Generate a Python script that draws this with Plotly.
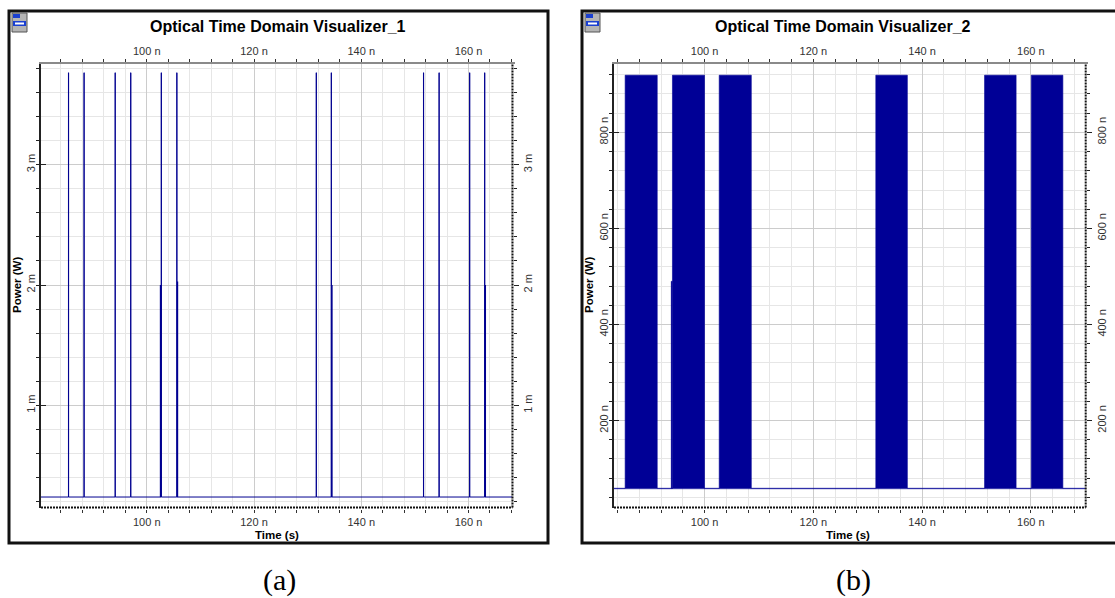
import plotly.graph_objects as go

# ---------------- data ----------------
# Panel (a): Optical Time Domain Visualizer_1  (time in ns, power in mW)
a_time_range = [80.28, 168.2]
a_power_range = [0.151, 3.834]
a_baseline_mW = 0.238
a_pulse_times_ns = [85.4, 88.3, 94.1, 97.0, 102.7, 105.6, 131.6, 134.4, 151.6, 154.5, 160.2, 163.0]
a_pulse_peaks_mW = [3.764, 3.764, 3.764, 3.764, 3.764, 3.764, 3.764, 3.764, 3.764, 3.764, 3.764, 3.764]
a_mid_times_ns = [102.55, 105.75, 134.55, 163.15]
a_mid_levels_mW = [2.00, 2.03, 2.00, 2.00]

# Panel (b): Optical Time Domain Visualizer_2  (time in ns, power in nW)
b_time_range = [83.35, 170.1]
b_power_range = [19.0, 941.7]
b_baseline_nW = 58.5
b_block_starts_ns = [85.4, 94.1, 102.7, 131.5, 151.5, 160.1]
b_block_ends_ns = [91.3, 100.0, 108.6, 137.3, 157.3, 165.9]
b_block_peaks_nW = [919, 919, 919, 919, 919, 919]
b_step_times_ns = [93.85]
b_step_levels_nW = [490]

a_x_ticks = [100, 120, 140, 160]
a_y_ticks = [1, 2, 3]
b_x_ticks = [100, 120, 140, 160]
b_y_ticks = [200, 400, 600, 800]

titles = ["Optical Time Domain Visualizer_1", "Optical Time Domain Visualizer_2"]
x_title = "Time (s)"
y_title = "Power (W)"
panel_labels = ["(a)", "(b)"]

# ---------------- geometry helpers ----------------
W, H = 1115, 598
def px(x):
    return x / W
def py(y):
    return 1 - y / H

NAVY = "#000090"
FONT = "Liberation Sans, Arial, sans-serif"

fig = go.Figure()

# ---- panel (a) traces ----
ax, ay = [a_time_range[0]], [a_baseline_mW]
for t, p in zip(a_pulse_times_ns, a_pulse_peaks_mW):
    ax += [t, t, t + 0.03, t + 0.03]
    ay += [a_baseline_mW, p, p, a_baseline_mW]
ax.append(a_time_range[1]); ay.append(a_baseline_mW)
fig.add_trace(go.Scatter(x=ax, y=ay, mode="lines", line=dict(color=NAVY, width=1),
                         xaxis="x", yaxis="y", showlegend=False, hoverinfo="skip"))
mx, my = [], []
for t, m in zip(a_mid_times_ns, a_mid_levels_mW):
    mx += [t, t, None]
    my += [a_baseline_mW, m, None]
fig.add_trace(go.Scatter(x=mx, y=my, mode="lines", line=dict(color=NAVY, width=1.2),
                         xaxis="x", yaxis="y", showlegend=False, hoverinfo="skip"))
fig.add_trace(go.Scatter(x=a_time_range, y=[a_baseline_mW, a_baseline_mW], mode="lines",
                         line=dict(color="rgba(0,0,0,0)", width=1), xaxis="x3", yaxis="y3",
                         showlegend=False, hoverinfo="skip"))

# ---- panel (b) traces ----
fig.add_trace(go.Scatter(x=b_time_range, y=[b_baseline_nW, b_baseline_nW], mode="lines",
                         line=dict(color="rgba(0,0,150,0.55)", width=1.5), xaxis="x2", yaxis="y2",
                         showlegend=False, hoverinfo="skip"))
bx, by = [b_time_range[0]], [b_baseline_nW]
for s, e, p in zip(b_block_starts_ns, b_block_ends_ns, b_block_peaks_nW):
    bx += [s, s, e, e]
    by += [b_baseline_nW, p, p, b_baseline_nW]
bx.append(b_time_range[1]); by.append(b_baseline_nW)
fig.add_trace(go.Scatter(x=bx, y=by, mode="lines", line=dict(color="rgba(0,0,150,0.6)", width=1),
                         fill="tonexty", fillcolor="#000096", xaxis="x2", yaxis="y2",
                         showlegend=False, hoverinfo="skip"))
sx, sy = [], []
for t, lv, s in zip(b_step_times_ns, b_step_levels_nW, b_block_starts_ns[1:2]):
    sx += [t, t, s, s, t]
    sy += [b_baseline_nW, lv, lv, b_baseline_nW, b_baseline_nW]
fig.add_trace(go.Scatter(x=sx, y=sy, mode="lines", line=dict(color="rgba(0,0,150,0.6)", width=0.5),
                         fill="toself", fillcolor="#000096", xaxis="x2", yaxis="y2",
                         showlegend=False, hoverinfo="skip"))
fig.add_trace(go.Scatter(x=b_time_range, y=[b_baseline_nW, b_baseline_nW], mode="lines",
                         line=dict(color="rgba(0,0,0,0)", width=1), xaxis="x4", yaxis="y4",
                         showlegend=False, hoverinfo="skip"))

# ---------------- axes ----------------
top_px, bot_px = 64.3, 507.5
ydom = [py(bot_px), py(top_px)]
a_dom = [px(41), px(512.5)]
b_dom = [px(614), px(1085.7)]

tickfont = dict(family=FONT, size=11, color="#333333")
GRID_MINOR = "#e6e6e6"
GRID_MAJOR = "#cccccc"

def xaxis_common(rng, ticks, dom, side, anchor, overlay=None, grid=True):
    d = dict(range=rng, domain=dom, side=side, anchor=anchor,
             tickvals=ticks, ticktext=[f"{v} n" for v in ticks],
             tickfont=tickfont, ticks="outside", ticklen=3, tickcolor="#333",
             showline=True, linecolor="#8a8a8a" if side == "top" else "rgba(0,0,0,0)", linewidth=2,
             showgrid=grid, gridcolor=GRID_MAJOR, gridwidth=1, zeroline=False,
             minor=dict(dtick=4, tick0=0, ticks="outside", ticklen=3, tickcolor="#333",
                        showgrid=grid, gridcolor=GRID_MINOR, gridwidth=1),
             fixedrange=True)
    if overlay:
        d["overlaying"] = overlay
    return d

def yaxis_common(rng, ticks, suffix, minor_dt, dom, side, anchor, overlay=None, grid=True):
    tk = "inside" if side == "left" else "outside"
    d = dict(range=rng, domain=dom, side=side, anchor=anchor,
             tickvals=ticks, ticktext=[f"{v} {suffix}" for v in ticks],
             tickfont=tickfont, tickangle=-90, ticks=tk, ticklen=5, tickcolor="#222",
             showline=True, linecolor="#222" if side == "left" else "rgba(0,0,0,0)", linewidth=1.5,
             showgrid=grid, gridcolor=GRID_MAJOR, gridwidth=1, zeroline=False,
             minor=dict(dtick=minor_dt, tick0=0, ticks="outside", ticklen=3, tickcolor="#222",
                        showgrid=grid, gridcolor=GRID_MINOR, gridwidth=1),
             fixedrange=True)
    if overlay:
        d["overlaying"] = overlay
    return d

fig.update_layout(
    xaxis=xaxis_common(a_time_range, a_x_ticks, a_dom, "bottom", "y"),
    yaxis=yaxis_common(a_power_range, a_y_ticks, "m", 0.2, ydom, "left", "x"),
    xaxis3=xaxis_common(a_time_range, a_x_ticks, a_dom, "top", "y3", overlay="x", grid=False),
    yaxis3=yaxis_common(a_power_range, a_y_ticks, "m", 0.2, ydom, "right", "x3", overlay="y", grid=False),
    xaxis2=xaxis_common(b_time_range, b_x_ticks, b_dom, "bottom", "y2"),
    yaxis2=yaxis_common(b_power_range, b_y_ticks, "n", 40, ydom, "left", "x2"),
    xaxis4=xaxis_common(b_time_range, b_x_ticks, b_dom, "top", "y4", overlay="x2", grid=False),
    yaxis4=yaxis_common(b_power_range, b_y_ticks, "n", 40, ydom, "right", "x4", overlay="y2", grid=False),
)

# ---------------- shapes: frames, dotted axis lines, icons ----------------
shapes = []
shapes.append(dict(type="rect", xref="paper", yref="paper", x0=px(9), x1=px(548), y0=py(543), y1=py(11),
                   line=dict(color="#111", width=3), fillcolor="rgba(0,0,0,0)", layer="above"))
shapes.append(dict(type="rect", xref="paper", yref="paper", x0=px(582), x1=px(1125), y0=py(543), y1=py(11),
                   line=dict(color="#111", width=3), fillcolor="rgba(0,0,0,0)", layer="above"))
for l, r in [(41, 512.5), (614, 1085.7)]:
    shapes.append(dict(type="line", xref="paper", yref="paper", x0=px(l), x1=px(r), y0=py(bot_px), y1=py(bot_px),
                       line=dict(color="#111", width=2, dash="2px,1px"), layer="above"))
    shapes.append(dict(type="line", xref="paper", yref="paper", x0=px(r), x1=px(r), y0=py(bot_px), y1=py(top_px),
                       line=dict(color="#111", width=2, dash="2px,1px"), layer="above"))
for ox in (12, 585):
    shapes.append(dict(type="rect", xref="paper", yref="paper", x0=px(ox), x1=px(ox + 15), y0=py(32), y1=py(13),
                       line=dict(color="#555", width=1), fillcolor="#b4b4b4", layer="above"))
    shapes.append(dict(type="rect", xref="paper", yref="paper", x0=px(ox + 1), x1=px(ox + 8), y0=py(18), y1=py(14),
                       line=dict(width=0), fillcolor="#1a3fd0", layer="above"))
    shapes.append(dict(type="rect", xref="paper", yref="paper", x0=px(ox + 1), x1=px(ox + 14), y0=py(26), y1=py(21),
                       line=dict(width=0), fillcolor="#1a3fd0", layer="above"))
    shapes.append(dict(type="rect", xref="paper", yref="paper", x0=px(ox + 3), x1=px(ox + 12), y0=py(24.5), y1=py(22.5),
                       line=dict(width=0), fillcolor="#ffffff", layer="above"))

# ---------------- annotations ----------------
ann = []
for cx, t in zip((278, 843), titles):
    ann.append(dict(text=f"<b>{t}</b>", x=px(cx), y=py(27), xref="paper", yref="paper",
                    showarrow=False, font=dict(family=FONT, size=16, color="#000"),
                    xanchor="center", yanchor="middle"))
for cx in (277, 848):
    ann.append(dict(text=f"<b>{x_title}</b>", x=px(cx), y=py(535), xref="paper", yref="paper",
                    showarrow=False, font=dict(family=FONT, size=11.5, color="#000"),
                    xanchor="center", yanchor="middle"))
for cx in (17, 589):
    ann.append(dict(text=f"<b>{y_title}</b>", x=px(cx), y=py(285), xref="paper", yref="paper",
                    showarrow=False, textangle=-90, font=dict(family=FONT, size=11.5, color="#000"),
                    xanchor="center", yanchor="middle"))
for cx, t in zip((279, 853), panel_labels):
    ann.append(dict(text=t, x=px(cx), y=py(580), xref="paper", yref="paper",
                    showarrow=False, font=dict(family="Liberation Serif, Times New Roman, serif", size=30, color="#000"),
                    xanchor="center", yanchor="middle"))

fig.update_layout(
    width=W, height=H, autosize=False,
    margin=dict(l=0, r=0, t=0, b=0),
    paper_bgcolor="white", plot_bgcolor="white",
    shapes=shapes, annotations=ann, showlegend=False,
    font=dict(family=FONT),
)

fig.write_html("out.html", config=dict(displayModeBar=False),
               post_script="document.body.style.margin='0px';")
